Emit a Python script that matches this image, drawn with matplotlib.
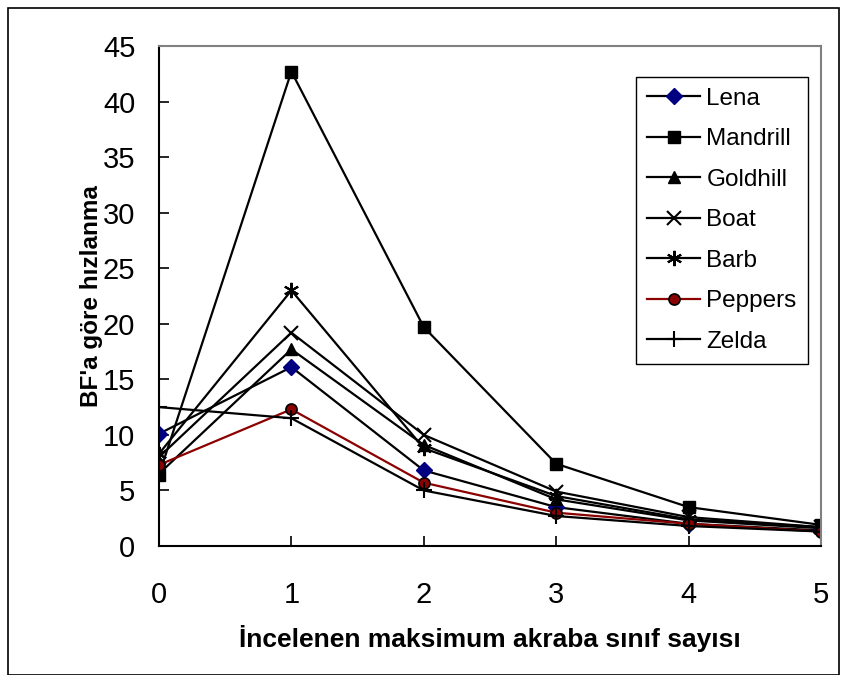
import matplotlib.pyplot as plt
from matplotlib.patches import Rectangle

plt.rcParams['font.family'] = ['Liberation Sans', 'DejaVu Sans']

x = [0, 1, 2, 3, 4, 5]
lena = [10.1, 16.1, 6.8, 3.5, 2.0, 1.4]
mandrill = [6.4, 42.7, 19.7, 7.4, 3.5, 1.9]
goldhill = [6.5, 17.7, 9.1, 4.2, 2.3, 1.6]
boat = [8.0, 19.2, 10.0, 4.9, 2.6, 1.7]
barb = [8.3, 23.0, 8.8, 4.5, 2.4, 1.7]
peppers = [7.3, 12.3, 5.7, 3.0, 2.0, 1.3]
zelda = [12.5, 11.5, 5.0, 2.7, 1.8, 1.3]

fig = plt.figure(figsize=(8.47, 6.75), dpi=100)
ax = fig.add_axes([0.1877, 0.1911, 0.7816, 0.7408])

lw = 1.6
ax.plot(x, lena, color='black', lw=lw, marker='D', ms=8, mfc='#000080', mec='#000080', label='Lena')
ax.plot(x, mandrill, color='black', lw=lw, marker='s', ms=8, mfc='black', mec='black', label='Mandrill')
ax.plot(x, goldhill, color='black', lw=lw, marker='^', ms=9, mfc='black', mec='black', label='Goldhill')
ax.plot(x, boat, color='black', lw=lw, marker='x', ms=10, mew=1.5, label='Boat')
ax.plot(x, barb, color='black', lw=lw, marker=(6, 2, 0), ms=11, mew=1.5, label='Barb')
ax.plot(x, peppers, color='#8B0000', lw=lw, marker='o', ms=8, mfc='#8B0000', mec='black', mew=1.2, label='Peppers')
ax.plot(x, zelda, color='black', lw=lw, marker='+', ms=12, mew=1.5, label='Zelda')

ax.set_xlim(0, 5)
ax.set_ylim(0, 45)
ax.set_yticks(range(0, 46, 5))
ax.set_xticks(x)
ax.tick_params(direction='in', length=7, width=1.2, labelsize=21)
ax.tick_params(axis='y', pad=17)
ax.tick_params(axis='x', pad=25)
for s in ['left', 'bottom']:
    ax.spines[s].set_color('black')
    ax.spines[s].set_linewidth(1.5)
for s in ['top', 'right']:
    ax.spines[s].set_color('#808080')
    ax.spines[s].set_linewidth(1.5)

ax.set_xlabel('İncelenen maksimum akraba sınıf sayısı', fontsize=19, fontweight='bold', labelpad=12)
ax.set_ylabel("BF'a göre hızlanma", fontsize=17.5, fontweight='bold', labelpad=0)

leg = ax.legend(loc='upper left', bbox_to_anchor=(636 / 847, 1 - 77 / 675), bbox_transform=fig.transFigure,
                fontsize=17.5, frameon=True, fancybox=False, edgecolor='black', framealpha=1,
                handlelength=2.2, labelspacing=0.76, borderpad=0.45, handletextpad=0.25, borderaxespad=0)
leg.get_frame().set_linewidth(1.0)

fig.patches.append(Rectangle((8 / 847, 0), 831 / 847, 1 - 8 / 675, transform=fig.transFigure,
                             fill=False, edgecolor='black', lw=1.2))

fig.savefig('out.png', dpi=100)
